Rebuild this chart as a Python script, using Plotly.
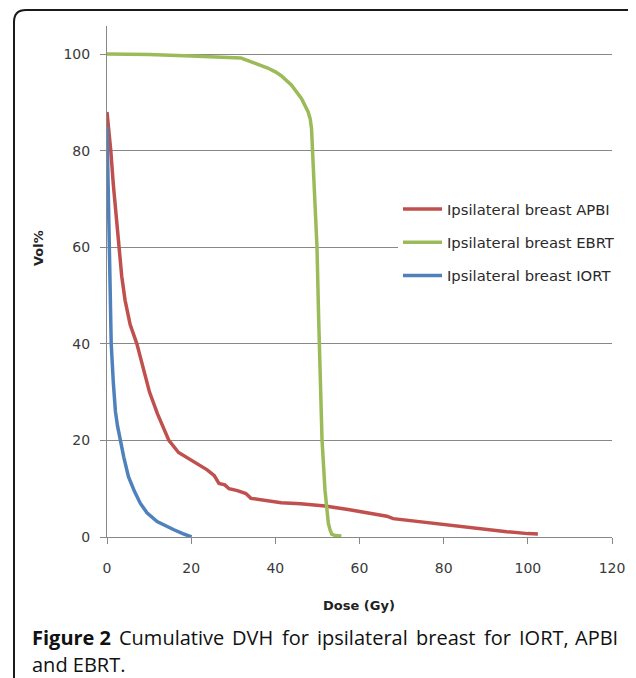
import plotly.graph_objects as go

# ---- data ----
apbi_dose = [0, 0.5, 0.9, 1.5, 2.0, 2.7, 3.5, 4.3, 5.5, 7.1, 8.5, 10.1, 12.0, 14.7, 17.0,
             19.9, 22.0, 23.8, 25.5, 26.6, 28.0, 29.0, 31.0, 33.0, 34.2, 38.0, 41.4, 46.0,
             51.8, 57.3, 61.0, 65.3, 66.5, 68.0, 70.0, 75.0, 80.0, 85.0, 90.0, 95.0, 100.0, 102.4]
apbi_vol = [88, 84, 80, 73, 68, 60, 54, 49, 44, 40, 35, 30, 25.5, 20, 17.5,
            15.9, 14.7, 13.9, 12.7, 11.1, 10.8, 10.0, 9.6, 9.0, 8.0, 7.5, 7.1, 6.9,
            6.4, 5.7, 5.2, 4.6, 4.3, 3.8, 3.6, 3.1, 2.5, 2.0, 1.5, 1.1, 0.7, 0.6]

ebrt_dose = [0, 10, 20, 30, 31.8, 33, 35, 36.5, 38.2, 40, 41.4, 43.8, 46.2, 47.8, 48.3,
             48.6, 48.75, 48.85, 49.4, 49.9, 50.3, 50.6, 51.1, 51.8, 52.3, 52.6, 53.0, 53.4,
             54.2, 55.7]
ebrt_vol = [100, 99.9, 99.6, 99.4, 99.2, 98.8, 98.2, 97.7, 97.1, 96.3, 95.5, 93.6, 90.8, 88, 86.5,
            84.5, 82, 79, 70, 60, 45, 32.5, 20, 9.7, 5, 2.8, 1.5, 0.6,
            0.3, 0.2]

iort_dose = [0, 0.1, 0.3, 0.5, 0.8, 1.0, 1.5, 2.0, 2.5, 3.1, 4.0, 5.1, 6.5, 7.9, 9.5,
             11.9, 14.0, 15.9, 18.0, 20.1]
iort_vol = [85, 80, 70, 60, 48, 40, 32, 26, 23, 20, 16.5, 12.5, 9.5, 7.0, 5.0,
            3.2, 2.2, 1.5, 0.7, 0.0]

series_names = ["Ipsilateral breast APBI", "Ipsilateral breast EBRT", "Ipsilateral breast IORT"]
x_ticks = [0, 20, 40, 60, 80, 100, 120]
y_ticks = [0, 20, 40, 60, 80, 100]
x_title = "Dose (Gy)"
y_title = "Vol%"
caption_bold = "Figure 2"
caption_line1 = "Cumulative DVH for ipsilateral breast for IORT, APBI"
caption_line2 = "and EBRT."

# ---- layout geometry (pixels of the 636x678 window; page body has an 8px margin) ----
OFF = 8
W, H = 636 - OFF, 678 - OFF
L, R, T, B = 107 - OFF, 612 - OFF, 26 - OFF, 537 - OFF
pw, ph = R - L, B - T


def px(xp):
    return (xp - OFF - L) / pw


def py(yp):
    return (B - (yp - OFF)) / ph


colors = ["#C0504D", "#9BBB59", "#4F81BD"]
FONT = "DejaVu Sans"

fig = go.Figure()
for i, (xs, ys) in enumerate([(apbi_dose, apbi_vol), (ebrt_dose, ebrt_vol), (iort_dose, iort_vol)]):
    fig.add_trace(go.Scatter(x=xs, y=ys, mode="lines", name=series_names[i],
                             legendgroup=str(i),
                             line=dict(color=colors[i], width=3.5)))

grid_col = "#888888"
fig.update_layout(
    width=W, height=H,
    margin=dict(l=L, r=W - R, t=T, b=H - B, pad=0),
    paper_bgcolor="white", plot_bgcolor="white",
    showlegend=True,
    legend=dict(x=px(398), xanchor="left", y=py(193), yanchor="top",
                bgcolor="white", borderwidth=0,
                font=dict(family=FONT, size=14.8, color="#2a2a2a"),
                itemwidth=39, tracegroupgap=11, traceorder="grouped"),
    xaxis=dict(range=[0, 120], tickvals=x_ticks, showgrid=False, zeroline=False,
               showline=True, linecolor=grid_col, linewidth=1,
               ticks="outside", ticklen=6, tickcolor=grid_col, tickwidth=1,
               ticklabelstandoff=12,
               tickfont=dict(family=FONT, size=14, color="#3a3a3a")),
    yaxis=dict(range=[0, 105.8], tickvals=y_ticks, showgrid=True, gridcolor=grid_col,
               gridwidth=1, zeroline=False,
               showline=True, linecolor=grid_col, linewidth=1,
               ticks="outside", ticklen=6, tickcolor=grid_col, tickwidth=1,
               ticklabelstandoff=7,
               tickfont=dict(family=FONT, size=14, color="#3a3a3a")),
)

# axis titles
fig.add_annotation(text="<b>%s</b>" % x_title, xref="paper", yref="paper",
                   x=px(359), y=py(605), xanchor="center", yanchor="middle", showarrow=False,
                   font=dict(family=FONT, size=13, color="#222222"))
fig.add_annotation(text="<b>%s</b>" % y_title, xref="paper", yref="paper",
                   x=px(38), y=py(248), xanchor="center", yanchor="middle", showarrow=False,
                   textangle=-90, font=dict(family=FONT, size=13, color="#222222"))

# caption: first line justified between x=30 and x=620 (word-by-word placement)
CAP_SIZE = 20
cap_font = dict(family="Open Sans", size=CAP_SIZE, color="#111111")
# approximate Open Sans advance widths (em)
adv = {' ': .26, ',': .245, '.': .266, '2': .572,
       'A': .633, 'B': .647, 'C': .633, 'D': .729, 'E': .556, 'F': .575, 'H': .753, 'I': .279,
       'O': .779, 'P': .603, 'R': .618, 'T': .556, 'V': .592,
       'a': .556, 'b': .614, 'c': .476, 'd': .614, 'e': .561, 'f': .34, 'g': .579, 'i': .253,
       'l': .253, 'm': .93, 'n': .614, 'o': .601, 'p': .614, 'r': .408, 's': .477, 't': .344,
       'u': .614, 'v': .499, 'y': .5}
bold_scale = 1.09
fudge = 0.97


def wid(s, bold=False):
    return sum(adv.get(c, .55) for c in s) * CAP_SIZE * fudge * (bold_scale if bold else 1.0)


words = [(caption_bold, True)] + [(w, False) for w in caption_line1.split(" ")]
left_px, right_px = 30, 620
natural = sum(wid(w, b) for w, b in words)
gap = (right_px - left_px - natural) / (len(words) - 1)
cur = left_px
for k, (w, b) in enumerate(words):
    txt = "<b>%s</b>" % w if b else w
    ww = wid(w, b)
    if k == 0:
        xa, xv = "left", cur
    elif k == len(words) - 1:
        xa, xv = "right", right_px
    else:
        xa, xv = "center", cur + ww / 2
    fig.add_annotation(text=txt, xref="paper", yref="paper", x=px(xv), y=py(637),
                       xanchor=xa, yanchor="middle", showarrow=False, font=cap_font)
    cur += ww + gap
fig.add_annotation(text=caption_line2, xref="paper", yref="paper",
                   x=px(left_px), y=py(664), xanchor="left", yanchor="middle", showarrow=False,
                   font=cap_font)

# rounded frame (open at bottom, right edge beyond the page)
x0, x1, y0, y1, r = 14, 638, 10, 690, 12
path = ("M {a},{b} L {a},{c} Q {a},{d} {e},{d} L {f},{d} Q {g},{d} {g},{c} L {g},{b}").format(
    a=px(x0), b=py(y1), c=py(y0 + r), d=py(y0), e=px(x0 + r), f=px(x1 - r), g=px(x1))
fig.add_shape(type="path", path=path, xref="paper", yref="paper",
              line=dict(color="#1a1a1a", width=2), layer="above")

fig.write_html("out.html")
